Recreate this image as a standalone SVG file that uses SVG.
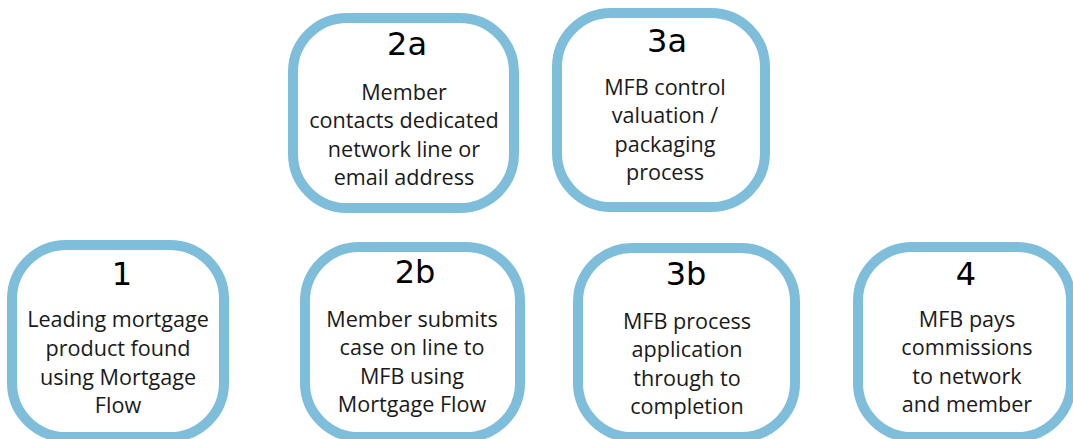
<svg xmlns="http://www.w3.org/2000/svg" width="1073" height="439" viewBox="0 0 1073 439">
<style>
.box{fill:#ffffff;stroke:#7fbedb;stroke-width:10}
.num{font-family:"DejaVu Sans",sans-serif;font-size:32px;fill:#000000;text-anchor:middle}
.txt{font-family:"Open Sans","Noto Sans",sans-serif;font-size:21.6px;fill:#1a1a1a;text-anchor:middle}
</style>
<rect width="1073" height="439" fill="#ffffff"/>
<g id="connectors"></g>
<g id="node-2a">
<rect class="box" x="293" y="18" width="221" height="190" rx="54"/>
<text class="num" x="407" y="55">2a</text>
<text class="txt" x="404" y="100">Member</text>
<text class="txt" x="404" y="128">contacts dedicated</text>
<text class="txt" x="404" y="157">network line or</text>
<text class="txt" x="404" y="185">email address</text>
</g>
<g id="node-3a">
<rect class="box" x="557" y="13" width="208" height="194" rx="54"/>
<text class="num" x="667" y="52">3a</text>
<text class="txt" x="665" y="95">MFB control</text>
<text class="txt" x="665" y="123">valuation /</text>
<text class="txt" x="665" y="152">packaging</text>
<text class="txt" x="665" y="180">process</text>
</g>
<g id="node-1">
<rect class="box" x="12" y="245" width="212" height="192" rx="54"/>
<text class="num" x="122" y="285">1</text>
<text class="txt" x="118" y="327">Leading mortgage</text>
<text class="txt" x="118" y="356">product found</text>
<text class="txt" x="118" y="385">using Mortgage</text>
<text class="txt" x="118" y="413">Flow</text>
</g>
<g id="node-2b">
<rect class="box" x="305" y="247" width="215" height="190" rx="54"/>
<text class="num" x="415" y="283">2b</text>
<text class="txt" x="412" y="327">Member submits</text>
<text class="txt" x="412" y="355">case on line to</text>
<text class="txt" x="412" y="384">MFB using</text>
<text class="txt" x="412" y="412">Mortgage Flow</text>
</g>
<g id="node-3b">
<rect class="box" x="578" y="248" width="217" height="189" rx="54"/>
<text class="num" x="686" y="285">3b</text>
<text class="txt" x="687" y="329">MFB process</text>
<text class="txt" x="687" y="357">application</text>
<text class="txt" x="687" y="386">through to</text>
<text class="txt" x="687" y="414">completion</text>
</g>
<g id="node-4">
<rect class="box" x="858" y="247" width="213" height="190" rx="54"/>
<text class="num" x="966" y="285">4</text>
<text class="txt" x="967" y="327">MFB pays</text>
<text class="txt" x="967" y="355">commissions</text>
<text class="txt" x="967" y="384">to network</text>
<text class="txt" x="967" y="412">and member</text>
</g>
</svg>
